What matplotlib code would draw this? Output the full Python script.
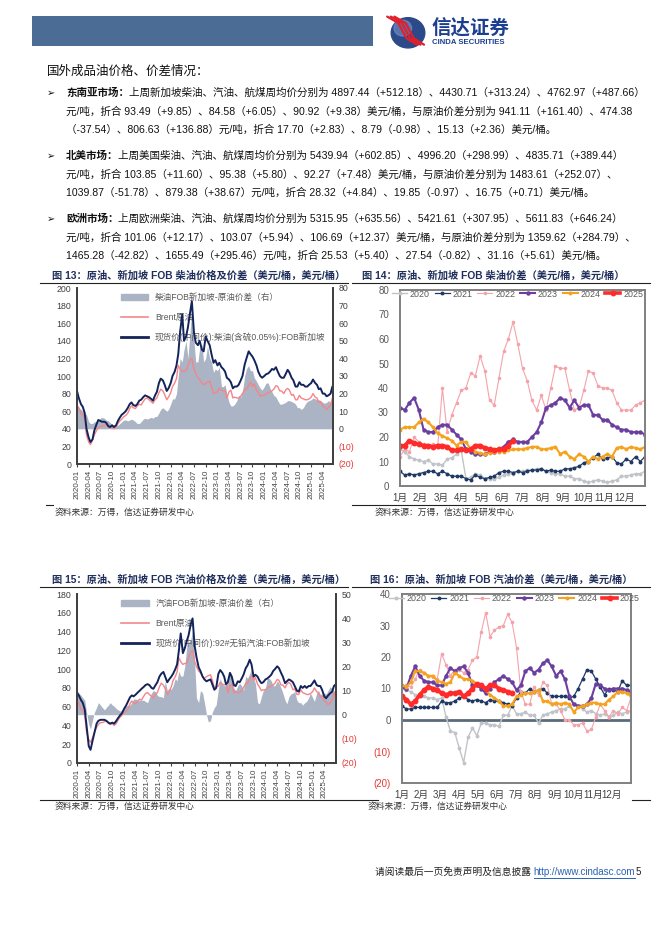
import numpy as np
import pandas as pd
import matplotlib
matplotlib.use('Agg')
import matplotlib.pyplot as plt
from matplotlib.patches import Rectangle, Circle, Patch
from matplotlib.lines import Line2D

plt.rcParams['font.family'] = ['Liberation Sans', 'Noto Sans CJK SC', 'DejaVu Sans']
plt.rcParams['axes.unicode_minus'] = False

W, H = 662, 936

# ---------------- data ----------------
# semi-monthly samples, 2020-01-01 .. 2025-07-01
dates = pd.date_range('2020-01-01', '2025-07-01', freq='SMS')

brent = np.array([
    66, 64, 57, 56, 51, 33, 25, 22, 27, 33, 38, 41, 43, 43, 44, 45, 42, 41, 42, 40, 42, 46, 49, 51,
    54, 55, 58, 63, 66, 64, 63, 66, 68, 67, 71, 74, 75, 73, 71, 69, 73, 75, 81, 85, 83, 79, 73, 76,
    81, 88, 92, 97, 112, 108, 105, 106, 106, 112, 118, 120, 108, 103, 98, 96, 92, 90, 92, 93, 94, 88, 80, 81,
    82, 86, 84, 83, 84, 75, 82, 84, 75, 76, 75, 75, 77, 80, 85, 85, 89, 93, 88, 91, 84, 81, 77, 78,
    78, 80, 81, 82, 83, 85, 89, 88, 83, 83, 80, 84, 86, 84, 78, 79, 73, 73, 78, 75, 74, 73, 73, 74,
    76, 80, 76, 75, 70, 71, 66, 65, 62, 64, 67, 75, 68])

diesel_sg = np.array([
    83, 75, 68, 65, 58, 40, 30, 25, 28, 38, 45, 50, 49, 48, 48, 47, 43, 42, 44, 42, 44, 49, 53, 56,
    58, 60, 64, 68, 70, 67, 66, 68, 72, 73, 76, 78, 77, 76, 74, 72, 78, 82, 92, 97, 95, 90, 83, 86,
    92, 100, 105, 112, 125, 150, 170, 140, 145, 155, 172, 185, 150, 138, 135, 140, 130, 128, 145, 140, 135, 125, 115, 118,
    112, 115, 110, 108, 105, 98, 96, 93, 86, 88, 88, 90, 95, 100, 113, 120, 128, 125, 122, 118, 112, 105, 100, 98,
    100, 102, 103, 105, 108, 107, 110, 105, 100, 98, 98, 102, 107, 104, 98, 95, 88, 88, 93, 90, 90, 88, 88, 90,
    92, 96, 92, 90, 85, 86, 80, 80, 77, 78, 80, 88, 85])

gasoline_sg = np.array([
    75, 72, 67, 64, 57, 40, 18, 14, 24, 32, 42, 45, 46, 46, 46, 45, 43, 42, 43, 42, 45, 48, 51, 53,
    58, 61, 66, 70, 72, 71, 73, 75, 77, 79, 81, 83, 84, 83, 80, 79, 83, 86, 92, 95, 97, 92, 86, 89,
    92, 95, 100, 105, 120, 138, 117, 122, 130, 136, 148, 154, 125, 113, 102, 98, 92, 89, 87, 88, 89, 84, 78, 80,
    95, 99, 96, 92, 84, 86, 96, 92, 83, 82, 87, 86, 90, 94, 101, 104, 110, 105, 92, 94, 92, 88, 85, 86,
    89, 90, 92, 94, 98, 100, 103, 101, 96, 92, 85, 87, 89, 88, 86, 82, 77, 76, 82, 80, 82, 80, 82, 82,
    85, 88, 83, 82, 82, 78, 71, 69, 72, 74, 76, 82, 84])

# spreads (right axis)
diesel_spread = np.array([
    14, 12, 11, 10, 9, 8, 4, 3, 3, 4, 4, 5, 6, 6.5, 6, 5, 4.5, 3.5, 2.5, 2, 1.5, 2, 3, 4,
    5, 5, 4.5, 5, 5.5, 5, 4, 3, 3, 4, 5.5, 6, 5.5, 6, 6.5, 6, 7, 7, 9, 11, 12, 11, 10, 11,
    14, 17, 17, 20, 30, 40, 38, 45, 50, 40, 55, 68, 50, 38, 38, 46, 48, 38, 40, 47, 40, 38, 32, 34,
    33, 35, 24, 24, 25, 20, 15, 13, 13, 14, 16, 19, 18, 21, 30, 34, 36, 33, 33, 29, 27, 25, 23, 22,
    24, 26, 26, 23, 21, 19, 18, 16, 14, 14, 14.5, 15, 16, 16, 15.5, 15, 14, 12, 12, 11, 12, 14, 15.5, 16,
    16.5, 17.5, 17, 16.5, 16.5, 16, 15, 14.5, 15, 16, 15, 16, 18])

gasoline_spread = np.array([
    10, 9, 8, 7, 6, 1, -4, -6, -2, 1, 3, 5, 4, 3, 2, 3, 4, 5, 4, 3.5, 2.5, 2, 1.5, 2,
    3, 3.5, 4, 4, 5, 6.5, 6.5, 6, 6, 6, 6, 5.5, 5, 7, 9, 10, 9.5, 8, 7.5, 7.5, 7, 14, 10, 11,
    10.5, 12, 15, 14, 18, 16, 16, 20, 28, 30, 31, 35, 22, 7, 5, 10, 9, 5, 0, -3, -2.5, 1, 3, 4,
    10.5, 15, 12.5, 12, 12, 15, 16.5, 16, 11, 10, 12, 13, 12, 10, 16, 15, 17, 19, 15, 13, 5, 4.5, 7.5, 10,
    11, 15, 15, 14, 12, 12, 14, 13, 11, 9, 6, 4.5, 7.5, 8.5, 9, 9.5, 6, 5, 5, 4, 5, 5.5, 7, 9,
    7, 5.5, 9, 10, 8.5, 8.5, 9, 8.5, 10, 11.5, 11, 10, 8.5])

# weekly diesel spread by year (fig 14)
d2020 = [15, 14, 12, 11, 10.5, 10, 10.5, 9, 9, 8.5, 11, 11.5, 13, 14.5, 3, 3.5, 5, 4.5, 3, 3,
         3, 3.5, 4.5, 5, 5, 6, 6, 6.5, 6.5, 7, 7, 6, 5.5, 5, 5, 4, 4, 3, 3, 2,
         1.5, 2, 2.5, 2, 1.5, 2, 2.5, 4, 4, 4.5, 5, 5, 6]
d2021 = [6, 4.5, 5, 4.5, 5, 5.5, 6, 6, 5, 6, 5, 4, 4, 4, 3, 2.5, 4.5, 3.5, 3, 3.5,
         4, 5.5, 6, 6, 5.5, 6, 5.5, 6, 6.5, 6.5, 7, 6, 6.5, 6, 6, 7, 7, 7.5, 8, 9.5,
         10, 11.5, 13, 11, 11.5, 12, 9.5, 9, 11, 10, 12, 10, 12]
d2022 = [12, 15, 14, 20, 18, 17, 16, 17, 16, 40, 22, 29, 34, 39, 40, 46, 45, 53, 47, 35,
         33, 44, 55, 60, 67, 58, 48, 43, 35, 31, 37, 31, 40, 49, 48, 48, 39, 31, 32, 39,
         47, 46, 41, 40, 40, 39, 34, 31, 31, 31, 33, 34, 35]
d2023 = [32, 31, 34, 36, 31, 23, 22, 22, 24, 25, 25, 23, 21, 19, 15, 14, 13, 13, 13, 14,
         14, 15, 16, 18, 19, 18, 18, 18, 20, 22, 26, 32, 33, 34, 36, 35, 32, 35, 32, 33,
         33, 29, 29, 27, 27, 25, 24, 23, 23, 22, 22, 22, 21]
d2024 = [23, 24, 24, 24, 26, 27.5, 26, 24, 21.5, 20.5, 19.5, 18.5, 16.5, 18, 18, 15, 14, 13.5, 13, 13.5,
         14, 14, 14, 14.5, 15, 15, 15, 15.5, 16, 16, 15, 15, 15.5, 16, 13, 14, 12, 11, 13, 12,
         10, 12, 11, 12, 13, 12, 15.5, 16, 15, 16, 15.5, 15, 16]
d2025 = [16.5, 16.5, 18.5, 17.5, 17, 16.5, 16.5, 16, 16.5, 16.5, 16, 14.5, 14.5, 15, 14.5, 15,
         16.5, 16.5, 15.5, 15, 14.5, 15, 15, 16.5, 18.5]

# weekly gasoline spread by year (fig 16)
g2020 = [10.5, 9.5, 9, 8, 7.5, 7.5, 7, 7, 6.5, 7, 1, -3.5, -4, -9, -13.5, -5.5, -2.5, -5, -1, -1,
         -1.5, -1.5, -2, 1.5, 1.5, 4.5, 2, 2, 2.5, 1.5, 1.5, -1, 1.5, 2, 2.5, 3, 3.5, 3.5, 4.5, 5,
         4.5, 3.5, 2.5, 3, 2, 1.5, 2, 1, 1.5, 2.5, 2, 2.5, 3]
g2021 = [4.5, 3.5, 3.5, 4, 4, 4, 4, 4, 4, 6, 5.5, 5.5, 6, 7, 7.5, 6.5, 6, 6.5, 6, 5.5,
         6.5, 6, 6, 5.5, 5, 4.5, 7, 9, 8.5, 10, 9, 9.5, 10, 8.5, 7.5, 7.5, 7.5, 7.5, 7, 7.5,
         10, 13, 16, 15.5, 13, 10.5, 8, 10, 9.5, 9, 12.5, 11, 11]
g2022 = [10.5, 11, 10.5, 13, 16, 15, 14, 13.5, 13, 21, 17.5, 14, 16, 16, 15, 16, 19, 20, 28, 34,
         26.5, 28.5, 29.5, 30, 33.5, 31, 23, 9, 5, 5, 10.5, 8, 12, 11, 5, 5, 3, 0, 0, -1.5,
         -1.5, -1, -3.5, -3, 1, 5, 3, 1, 3, 2, 4, 3, 7]
g2023 = [10.5, 10, 14, 17, 14, 12.5, 12, 12, 11, 11, 14, 16.5, 15.5, 16.5, 17, 15, 11, 11, 10, 8.5,
         10, 12, 13, 14, 13, 12, 9.5, 11, 15.5, 16.5, 15, 16, 18, 19, 17, 14, 15.5, 13, 7.5, 5,
         4.5, 4.5, 5, 7, 11.5, 11, 10, 9.5, 10, 10, 10, 9.5, 9]
g2024 = [11, 10.5, 12, 15.5, 15.5, 15, 14, 14, 12.5, 12, 11.5, 12, 15, 14, 13, 13, 12.5, 11.5, 11, 9.5,
         8, 7, 6, 4.5, 4.5, 5, 7.5, 8, 8.5, 8.5, 9, 9.5, 6, 6, 5, 5.5, 5, 5.5, 5, 2.5,
         4, 4.5, 5, 5.5, 5.5, 5, 5, 6.5, 7.5, 9, 9, 8.5, 7.5]
g2025 = [7.5, 6.5, 5, 6, 8, 9.5, 10.5, 10, 9.5, 8.5, 8, 8.5, 8.5, 9, 7.5, 8.5, 10, 11.5, 11, 10,
         11, 11, 10, 9.5, 9, 8.5]

years = ['2020', '2021', '2022', '2023', '2024', '2025']
month_labels = [f'{m}月' for m in range(1, 13)]
quarter_ticks = pd.date_range('2020-01-01', '2025-04-01', freq='QS')

body = [
    ('东南亚市场：', [
        '上周新加坡柴油、汽油、航煤周均价分别为 4897.44（+512.18）、4430.71（+313.24）、4762.97（+487.66）',
        '元/吨，折合 93.49（+9.85）、84.58（+6.05）、90.92（+9.38）美元/桶，与原油价差分别为 941.11（+161.40）、474.38',
        '（-37.54）、806.63（+136.88）元/吨，折合 17.70（+2.83）、8.79（-0.98）、15.13（+2.36）美元/桶。']),
    ('北美市场：', [
        '上周美国柴油、汽油、航煤周均价分别为 5439.94（+602.85）、4996.20（+298.99）、4835.71（+389.44）',
        '元/吨，折合 103.85（+11.60）、95.38（+5.80）、92.27（+7.48）美元/桶，与原油价差分别为 1483.61（+252.07）、',
        '1039.87（-51.78）、879.38（+38.67）元/吨，折合 28.32（+4.84）、19.85（-0.97）、16.75（+0.71）美元/桶。']),
    ('欧洲市场：', [
        '上周欧洲柴油、汽油、航煤周均价分别为 5315.95（+635.56）、5421.61（+307.95）、5611.83（+646.24）',
        '元/吨，折合 101.06（+12.17）、103.07（+5.94）、106.69（+12.37）美元/桶，与原油价差分别为 1359.62（+284.79）、',
        '1465.28（-42.82）、1655.49（+295.46）元/吨，折合 25.53（+5.40）、27.54（-0.82）、31.16（+5.61）美元/桶。']),
]

# ---------------- figure ----------------
fig = plt.figure(figsize=(W / 100, H / 100), dpi=100)
renderer = fig.canvas.get_renderer()


def box(l, t, r, b):
    return [l / W, 1 - b / H, (r - l) / W, (b - t) / H]


def put(x, y, s, **kw):
    kw.setdefault('va', 'center')
    return fig.text(x / W, 1 - y / H, s, **kw)


def hline(x0, x1, y, **kw):
    fig.add_artist(Line2D([x0 / W, x1 / W], [1 - y / H, 1 - y / H], **kw))


# header bar + logo
fig.add_artist(Rectangle((32 / W, 1 - 46 / H), 341 / W, 30 / H, color='#4b6d95', lw=0))
lax = fig.add_axes(box(386, 13, 426, 49))
lax.set_xlim(0, 1); lax.set_ylim(0, 1); lax.axis('off')
lax.add_patch(Circle((0.55, 0.45), 0.42, color='#2c4a8a'))
lax.add_patch(Circle((0.42, 0.58), 0.22, color='#7f98cc', alpha=0.55))
for off in (-0.09, 0.0, 0.09):
    lax.plot([0.12 + off, 0.4 + off, 0.6 + off, 0.86 + off], [0.9, 0.72, 0.3, 0.12],
             color='#e0202a', lw=1.6, solid_capstyle='round')
put(432, 28, '信达证券', fontsize=14, fontweight='bold', color='#1d3f8f')
put(432, 42, 'CINDA SECURITIES', fontsize=5.6, fontweight='bold', color='#1d3f8f')

# body text
put(47, 72, '国外成品油价格、价差情况：', fontsize=9, color='#111111')
fs = 7.6
y = 93
for head, lines in body:
    put(47, y, '➢', family='DejaVu Sans', fontsize=7, color='#111111')
    th = put(66, y, head, fontsize=fs, fontweight='bold', color='#111111')
    wh = th.get_window_extent(renderer).width
    put(66 + wh, y, lines[0], fontsize=fs, color='#111111')
    put(66, y + 18.5, lines[1], fontsize=fs, color='#111111')
    put(66, y + 37, lines[2], fontsize=fs, color='#111111')
    y += 63

title_kw = dict(fontsize=7.4, fontweight='bold', color='#1f2f5c')
put(52, 276, '图 13：原油、新加坡 FOB 柴油价格及价差（美元/桶，美元/桶）', **title_kw)
put(362, 276, '图 14：原油、新加坡 FOB 柴油价差（美元/桶，美元/桶）', **title_kw)
put(52, 580, '图 15：原油、新加坡 FOB 汽油价格及价差（美元/桶，美元/桶）', **title_kw)
put(370, 580, '图 16：原油、新加坡 FOB 汽油价差（美元/桶，美元/桶）', **title_kw)
for yy in (283, 587):
    hline(40, 348, yy, color='#222222', lw=0.8)
    hline(352, 650, yy, color='#222222', lw=0.8)

src = '资料来源：万得，信达证券研发中心'
src_kw = dict(fontsize=6.3, style='italic', color='#333333')
put(55, 512, src, **src_kw)
put(375, 512, src, **src_kw)
put(55, 806, src, **src_kw)
put(368, 806, src, **src_kw)
hline(46, 53, 505, color='#222222', lw=0.8)
hline(352, 645, 505, color='#222222', lw=0.8)
hline(40, 378, 800, color='#222222', lw=0.8)
hline(632, 650, 800, color='#222222', lw=0.8)

# footer
tf = put(375, 872, '请阅读最后一页免责声明及信息披露 ', fontsize=7, color='#222222')
x_url = 375 + tf.get_window_extent(renderer).width
tu = put(x_url, 872, 'http://www.cindasc.com', fontsize=7, color='#2a62b0')
wu = tu.get_window_extent(renderer).width
hline(x_url, x_url + wu, 878, color='#2a62b0', lw=0.7)
put(x_url + wu, 872, '5', fontsize=7, color='#222222')


def paren(v):
    return f'({abs(v):.0f})' if v < 0 else f'{v:.0f}'


def price_chart(rect, product, spread, lo, hi, rlo, rhi, xend, labels):
    ax = fig.add_axes(box(*rect))
    ax2 = ax.twinx()
    ax.set_zorder(ax2.get_zorder() + 1)
    ax.patch.set_visible(False)
    ax2.fill_between(dates, 0, spread, color='#aab4c4', lw=0)
    ax.plot(dates, brent, color='#f4868a', lw=1.0)
    ax.plot(dates, product, color='#14245a', lw=1.4)
    ax.set_xlim(dates[0], pd.Timestamp(xend))
    ax.set_ylim(lo, hi)
    ax.set_yticks(np.arange(lo, hi + 1, 20))
    ax2.set_ylim(rlo, rhi)
    rt = np.arange(rlo, rhi + 1, 10)
    ax2.set_yticks(rt)
    ax2.set_yticklabels([paren(v) for v in rt])
    for lab, v in zip(ax2.get_yticklabels(), rt):
        lab.set_color('#e53935' if v < 0 else '#404040')
    ax.set_xticks(quarter_ticks)
    ax.set_xticklabels([d.strftime('%Y-%m') for d in quarter_ticks], rotation=90)
    ax.tick_params(axis='x', labelsize=5.8, length=2, colors='#404040', pad=2)
    ax.tick_params(axis='y', labelsize=6.3, length=0, colors='#404040', pad=4)
    ax2.tick_params(axis='y', labelsize=6.3, length=0, pad=4)
    for a in (ax, ax2):
        a.spines['top'].set_visible(False)
        for s in ('left', 'bottom', 'right'):
            a.spines[s].set_color('#404040')
            a.spines[s].set_linewidth(1.3)
    handles = [Patch(color='#aab4c4'), Line2D([], [], color='#f4868a', lw=1.2),
               Line2D([], [], color='#14245a', lw=2)]
    ax2.legend(handles, labels, loc='upper left', bbox_to_anchor=(0.15, 1.0), frameon=False,
               fontsize=6.2, labelcolor='#595959', handlelength=3.2, labelspacing=1.25,
               handleheight=0.6, borderaxespad=0.2)
    return ax


price_chart((77, 288, 333, 464), diesel_sg, diesel_spread, 0, 200, -20, 80, '2025-06-20',
            ['柴油FOB新加坡-原油价差（右）', 'Brent原油', '现货价(中间价):柴油(含硫0.05%):FOB新加坡'])
price_chart((77, 594, 336, 763), gasoline_sg, gasoline_spread, 0, 180, -20, 50, '2025-07-01',
            ['汽油FOB新加坡-原油价差（右）', 'Brent原油', '现货价(中间价):92#无铅汽油:FOB新加坡'])

styles = [
    dict(color='#c0c4c8', lw=1.0, marker='o', ms=1.8),
    dict(color='#203864', lw=0.9, marker='o', ms=1.8),
    dict(color='#f4a3ab', lw=0.8, marker='o', ms=1.6),
    dict(color='#6b3fa0', lw=1.5, marker='o', ms=2.2),
    dict(color='#f5a21e', lw=1.5, marker='o', ms=1.8),
    dict(color='#ff2a2a', lw=2.6, marker='o', ms=3.2),
]


def season_chart(rect, series, lo, hi, lx):
    ax = fig.add_axes(box(*rect))
    for vals, yr, st in zip(series, years, styles):
        ax.plot(np.arange(len(vals)), vals, label=yr, **st)
    ax.set_xlim(0, 52)
    ax.set_ylim(lo, hi)
    ax.set_xticks(np.arange(12) * 52 / 12)
    ax.set_xticklabels(month_labels)
    yt = np.arange(lo, hi + 1, 10)
    ax.set_yticks(yt)
    ax.set_yticklabels([paren(v) for v in yt])
    for lab, v in zip(ax.get_yticklabels(), yt):
        lab.set_color('#e53935' if v < 0 else '#595959')
    ax.tick_params(axis='x', labelsize=7, length=0, colors='#404040', pad=5)
    ax.tick_params(axis='y', labelsize=7, length=0, pad=8)
    for sp in ax.spines.values():
        sp.set_color('#808080')
        sp.set_linewidth(1.4)
    ax.legend(loc='upper center', bbox_to_anchor=(lx, 1.025), ncol=6, frameon=False,
              fontsize=6.4, labelcolor='#595959', handlelength=1.7, handletextpad=0.3,
              columnspacing=0.55, borderaxespad=0.1)
    return ax


season_chart((400, 290, 645, 486), [d2020, d2021, d2022, d2023, d2024, d2025], 0, 80, 0.48)
ax16 = season_chart((402, 594, 631, 783), [g2020, g2021, g2022, g2023, g2024, g2025], -20, 40, 0.49)
ax16.axhline(0, color='#5c6b7a', lw=2, zorder=1)

fig.savefig('out.png', dpi=100)
